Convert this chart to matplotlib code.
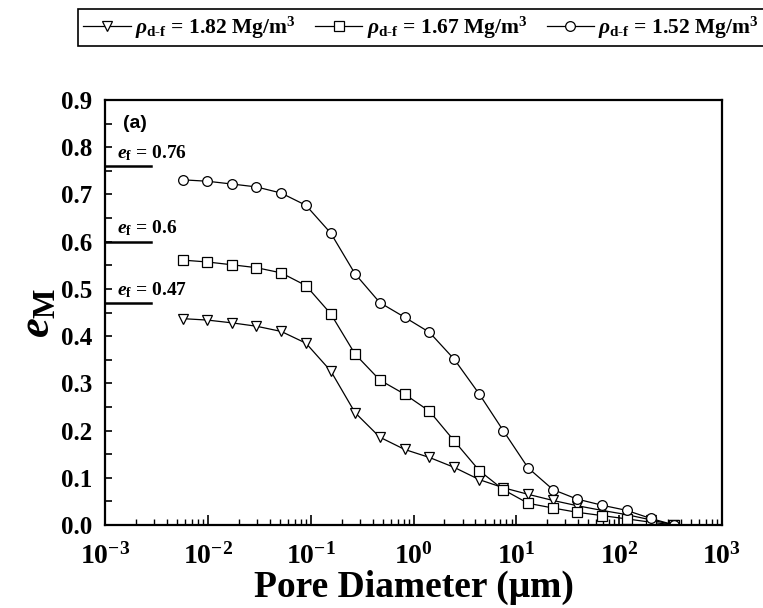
import numpy as np
import matplotlib
matplotlib.use("Agg")
from matplotlib import pyplot
from matplotlib import ticker

# pore diameter (um), shared by all three series
diam = [0.0057, 0.0099, 0.0173, 0.0296, 0.0516, 0.090, 0.157, 0.27, 0.47, 0.82,
        1.43, 2.49, 4.37, 7.45, 13.0, 22.7, 38.8, 67.8, 118, 202, 344]

# void ratio e_M for each final dry density
e_182 = [0.437, 0.434, 0.428, 0.421, 0.410, 0.385, 0.326, 0.238, 0.186, 0.160,
         0.143, 0.122, 0.096, 0.079, 0.065, 0.052, 0.041, 0.031, 0.022, 0.011, 0.0]
e_167 = [0.561, 0.557, 0.551, 0.545, 0.534, 0.507, 0.447, 0.362, 0.307, 0.277,
         0.241, 0.178, 0.115, 0.075, 0.046, 0.036, 0.027, 0.020, 0.013, 0.006, 0.0]
e_152 = [0.731, 0.728, 0.722, 0.716, 0.703, 0.677, 0.618, 0.532, 0.471, 0.440,
         0.408, 0.351, 0.277, 0.200, 0.121, 0.075, 0.055, 0.042, 0.031, 0.014, 0.0]

series = [e_182, e_167, e_152]
markers = ["v", "s", "o"]
labels = [r"$\rho_{\text{d-f}}$ = 1.82 Mg/m$^{\text{3}}$",
          r"$\rho_{\text{d-f}}$ = 1.67 Mg/m$^{\text{3}}$",
          r"$\rho_{\text{d-f}}$ = 1.52 Mg/m$^{\text{3}}$"]

# final void ratios
ef_vals = [0.76, 0.6, 0.47]
ef_text = ["0.76", "0.6", "0.47"]

xticks = [1e-3, 1e-2, 1e-1, 1e0, 1e1, 1e2, 1e3]

pyplot.rcParams["font.family"] = ["Liberation Serif", "DejaVu Serif"]
pyplot.rcParams["font.weight"] = "bold"
pyplot.rcParams["axes.labelweight"] = "bold"
pyplot.rcParams["mathtext.fontset"] = "custom"
pyplot.rcParams["mathtext.rm"] = "Liberation Serif:bold"
pyplot.rcParams["mathtext.it"] = "Liberation Serif:italic:bold"
pyplot.rcParams["mathtext.bf"] = "Liberation Serif:bold"

fig = pyplot.figure(figsize=(7.63, 6.08), dpi=100)
ax = fig.add_axes([0.1376, 0.1365, 0.8087, 0.699])

handles = []
for vals, mk, lab in zip(series, markers, labels):
    h, = ax.plot(diam, vals, color="k", lw=0.9, marker=mk, ms=7 if mk != "s" else 6.5,
                 mfc="w", mec="k", mew=0.9, label=lab)
    handles.append(h)

ax.set_xscale("log")
ax.set_xlim(1e-3, 1e3)
ax.set_ylim(0, 0.9)
ax.yaxis.set_major_locator(ticker.MultipleLocator(0.1))
ax.yaxis.set_minor_locator(ticker.MultipleLocator(0.05))
ax.yaxis.set_major_formatter(ticker.FormatStrFormatter("%.1f"))
ax.set_xticks(xticks)
ax.xaxis.set_minor_locator(ticker.LogLocator(base=10, subs=np.arange(2, 10), numticks=10))
ax.xaxis.set_minor_formatter(ticker.NullFormatter())

ax.tick_params(axis="both", which="both", direction="in", top=False, right=False)
ax.tick_params(axis="x", which="major", length=7, width=1.2, pad=13, labelsize=20)
ax.tick_params(axis="x", which="minor", length=4, width=1.0)
ax.tick_params(axis="y", which="both", length=5, width=1.2, pad=9, labelsize=18)
for sp in ax.spines.values():
    sp.set_linewidth(1.6)

ax.set_xlabel("Pore Diameter (μm)", fontsize=27, fontweight="bold", labelpad=0)
ax.set_ylabel(r"$e_{\text{M}}$", fontsize=32, labelpad=2)

# final void ratio markers on the left
for v, t in zip(ef_vals, ef_text):
    ax.plot([1.0e-3, 2.8e-3], [v, v], color="k", lw=1.8, clip_on=False)
    ax.text(1.3e-3, v + 0.007, r"$e_{\text{f}}$ = " + t, fontsize=14, ha="left", va="bottom")

ax.text(0.03, 0.965, "(a)", transform=ax.transAxes, fontsize=14, fontweight="bold",
        family="Liberation Sans", ha="left", va="top")

leg = fig.legend(handles, labels, loc="upper center", bbox_to_anchor=(0.552, 0.985), ncol=3,
                 fontsize=15.5, frameon=True, fancybox=False, edgecolor="k", framealpha=1,
                 handlelength=2.2, handletextpad=0.2, columnspacing=0.9, borderpad=0.25,
                 borderaxespad=0)
leg.get_frame().set_linewidth(1.2)

fig.savefig("out.png", dpi=100)
